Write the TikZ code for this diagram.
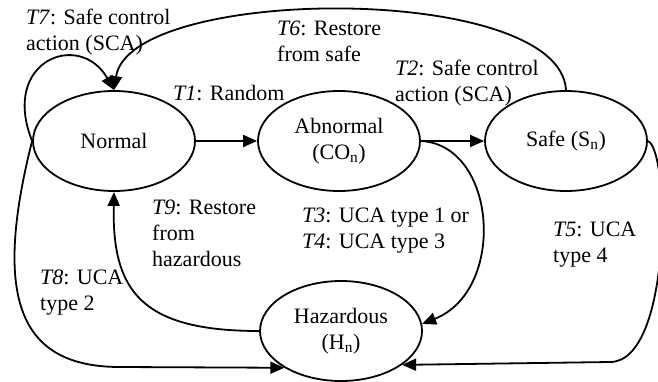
\documentclass[tikz,border=0pt]{standalone}
\usepackage{fontspec}
\setmainfont{Liberation Serif}
\usetikzlibrary{shapes.geometric,arrows.meta}
\begin{document}
\begin{tikzpicture}[x=1pt,y=-1pt,
  every node/.style={font=\fontsize{22}{26}\selectfont},
  state/.style={draw,ellipse,line width=1.8pt,minimum width=162pt,minimum height=100pt,inner sep=0pt,align=center},
  lbl/.style={anchor=north west,inner sep=0pt,align=left},
  conn/.style={line width=1.8pt,-{Triangle[length=14pt,width=12pt]}},
  plain/.style={line width=1.8pt}]
\useasboundingbox (0,0) rectangle (658,382);
\node[state] (N) at (114,141) {Normal};
\node[state] (A) at (339,141) {Abnormal\\(CO\textsubscript{n})};
\node[state] (S) at (566,141) {Safe (S\textsubscript{n})};
\node[state] (H) at (341,331) {Hazardous\\(H\textsubscript{n})};
% labels
\node[lbl] (l7) at (26,9) {\textit{T7}: Safe control\\action (SCA)};
\node[lbl] (l6) at (277,21) {\textit{T6}: Restore\\from safe};
\node[lbl] (l1) at (173,85) {\textit{T1}: Random};
\node[lbl] (l2) at (395,60) {\textit{T2}: Safe control\\action (SCA)};
\node[lbl] (l9) at (152,200) {\textit{T9}: Restore\\from\\hazardous};
\node[lbl] (l8) at (40,270) {\textit{T8}: UCA\\type 2};
\node[lbl] (l3) at (302,208) {\textit{T3}: UCA type 1 or\\\textit{T4}: UCA type 3};
\node[lbl] (l5) at (553,222) {\textit{T5}: UCA\\type 4};
% connectors
\draw[conn] (N.east) -- (A.west);
\draw[conn] (A.east) -- (S.west);
\draw[conn] (N.west) .. controls (0,60) and (80,30) .. (N.north);
\draw[conn] (S.north) .. controls (560,-18) and (130,-15) .. (N.north);
\draw[conn] (N.west) .. controls (-8,300) and (20,367) .. (120,367) -- (H.213);
\draw[conn] (H.west) .. controls (140,331) and (112,290) .. (N.south);
\draw[conn] (A.east) .. controls (497,145) and (507,290) .. (H.5);
\draw[conn] (S.east) .. controls (670,150) and (672,362) .. (610,362) -- (H.331);
\end{tikzpicture}
\end{document}
